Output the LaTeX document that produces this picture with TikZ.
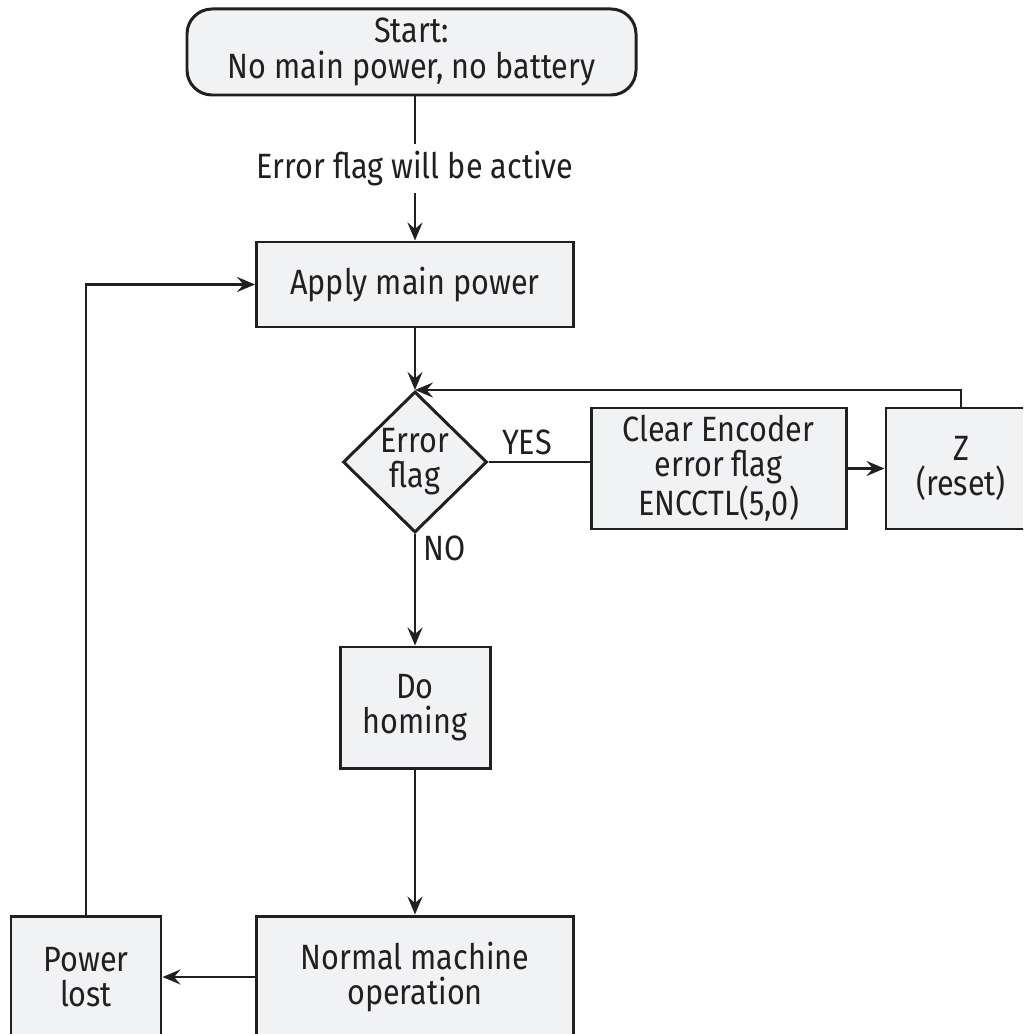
\documentclass[tikz,border=0pt]{standalone}
\usepackage{fontspec}
\IfFontExistsTF{FiraSans-Light.otf}
  {\setmainfont{FiraSans-Light.otf}[FakeStretch=0.87]}
  {\setmainfont{Fira Sans}[FakeStretch=0.87]}
\usepackage{tikz}
\usetikzlibrary{shapes.geometric,arrows.meta,positioning}
\definecolor{boxfill}{RGB}{241,242,244}
\definecolor{inkline}{RGB}{35,31,32}

\begin{document}
\begin{tikzpicture}[
    font=\fontsize{20}{20}\selectfont,
    box/.style={rectangle, draw=inkline, fill=boxfill, line width=1.7pt, align=center, text=inkline, inner sep=0pt},
    startbox/.style={box, rounded corners=0.5cm, minimum width=8.98cm, minimum height=1.72cm},
    decision/.style={diamond, draw=inkline, fill=boxfill, line width=1.7pt, align=center, text=inkline, inner sep=0pt, minimum width=2.88cm, minimum height=2.82cm},
    arrow/.style={-{Stealth[length=3.6mm, width=3mm, inset=1.3mm]}, line width=1.6pt, draw=inkline},
    line/.style={line width=1.6pt, draw=inkline},
    lbl/.style={text=inkline}
]
\clip (0,0) rectangle (20.46,-20.68);

% === MAIN COLUMN ===
\node[startbox] (start) at (8.23,-1.04) {Start:\\No main power, no battery};
\node[box, minimum width=6.34cm, minimum height=1.7cm] (apply) at (8.30,-5.69) {Apply main power};
\node[decision] (check) at (8.30,-9.24) {Error\\flag};
\node[box, minimum width=3cm, minimum height=2.42cm] (homing) at (8.30,-14.15) {Do\\homing};
\node[box, minimum width=6.34cm, minimum height=2.44cm] (normal) at (8.30,-19.54) {Normal machine\\operation};

% === YES BRANCH (right) ===
\node[box, minimum width=5.1cm, minimum height=2.42cm] (clear) at (14.37,-9.37) {Clear Encoder\\error flag\\ENCCTL(5,0)};
\node[box, minimum width=3cm, minimum height=2.42cm, right=0.74cm of clear] (zreset) {Z\\(reset)};

% === POWER LOSS (left) ===
\node[box, minimum width=3cm, minimum height=2.44cm] (lost) at (1.72,-19.54) {Power\\lost};

% === ARROWS ===
\draw[arrow] (apply |- start.south) -- node[fill=white, lbl, inner sep=4pt] {Error flag will be active} (apply.north);
\draw[arrow] (apply) -- (check);
\draw[line] (check.east) -- node[pos=0.38, above, lbl] {YES} (check.east -| clear.west);
\draw[arrow] (clear) -- (zreset);
\draw[arrow] (zreset.north) |- (check.north);
\draw[arrow] (check.south) -- node[pos=0, anchor=north west, lbl, inner xsep=4pt, inner ysep=0pt] {NO} (homing.north);
\draw[arrow] (homing) -- (normal);
\draw[arrow] (normal) -- (lost);
\draw[arrow] (lost.north) |- (apply.west);

\end{tikzpicture}
\end{document}
